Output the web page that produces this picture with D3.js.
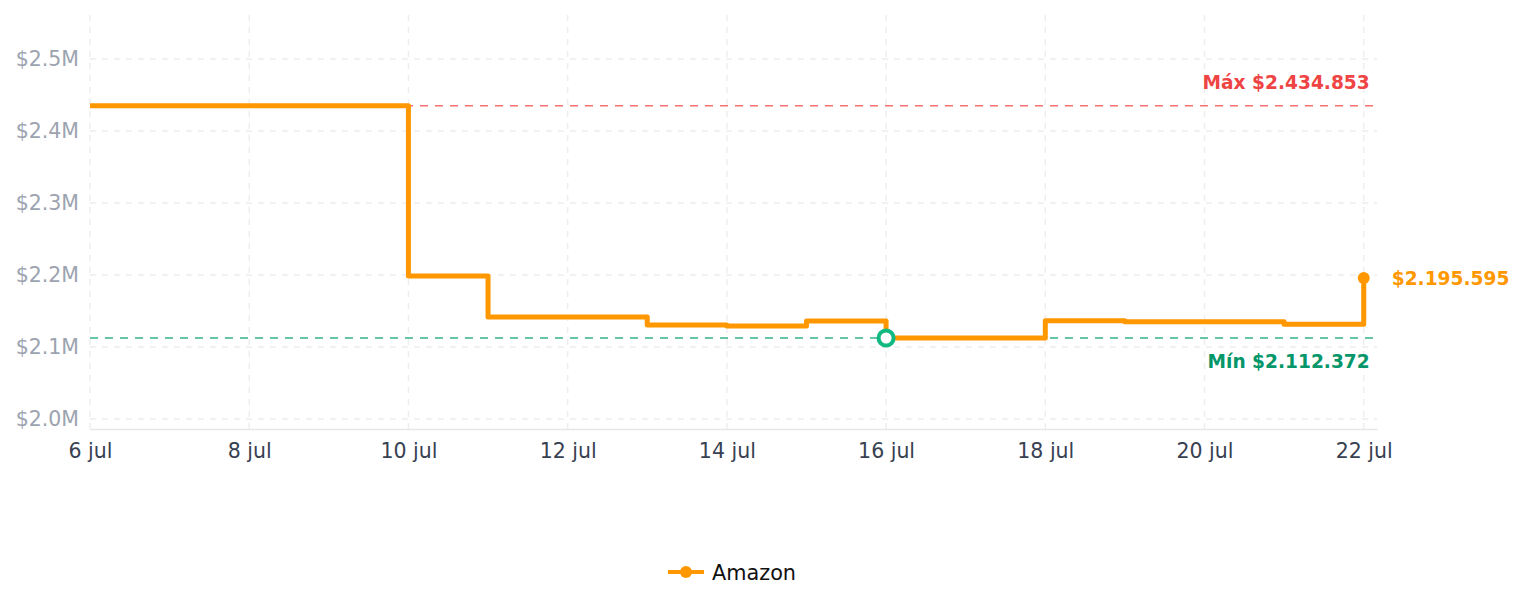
<!DOCTYPE html>
<html>
<head>
<meta charset="utf-8">
<script src="https://cdn.jsdelivr.net/npm/d3@7"></script>
<style>
  body { margin: 0; background: #fff; font-family: "DejaVu Sans", sans-serif; }
</style>
</head>
<body>
<div id="chart"></div>
<script>
// data
const days = ["2024-07-06","2024-07-07","2024-07-08","2024-07-09","2024-07-10","2024-07-11","2024-07-12","2024-07-13","2024-07-14","2024-07-15","2024-07-16","2024-07-17","2024-07-18","2024-07-19","2024-07-20","2024-07-21","2024-07-22"];
const amazon = [2434853, 2434853, 2434853, 2434853, 2198600, 2141700, 2141700, 2130600, 2129000, 2136100, 2112372, 2112372, 2136400, 2134900, 2134900, 2131600, 2195595];
const yTicks = [2000000, 2100000, 2200000, 2300000, 2400000, 2500000];
const xTickDays = ["2024-07-06","2024-07-08","2024-07-10","2024-07-12","2024-07-14","2024-07-16","2024-07-18","2024-07-20","2024-07-22"];
const months = ["ene","feb","mar","abr","may","jun","jul","ago","sep","oct","nov","dic"];

const W = 1524, H = 607;
const margin = { left: 90, right: 147, top: 15, bottom: 178 };
const parse = d3.timeParse("%Y-%m-%d");
const data = days.map((d, i) => ({ date: parse(d), v: amazon[i] }));
const fmt = v => "$" + d3.format(",")(v).replace(/,/g, ".");

const svg = d3.select("#chart").append("svg")
    .attr("width", W)
    .attr("height", H);

const x = d3.scaleTime()
    .domain([parse("2024-07-06"), d3.timeHour.offset(parse("2024-07-22"), 4)])
    .range([margin.left, W - margin.right]);

const y = d3.scaleLinear()
    .domain([1986000, 2561000])
    .range([H - margin.bottom, margin.top]);

// grid
svg.append("g").selectAll("line")
    .data(yTicks)
    .join("line")
    .attr("x1", margin.left).attr("x2", W - margin.right)
    .attr("y1", d => y(d)).attr("y2", d => y(d))
    .attr("stroke", "#eeeeee").attr("stroke-width", 1.5)
    .attr("stroke-dasharray", "6,6");

svg.append("g").selectAll("line")
    .data(xTickDays.map(parse))
    .join("line")
    .attr("x1", d => x(d)).attr("x2", d => x(d))
    .attr("y1", margin.top).attr("y2", H - margin.bottom)
    .attr("stroke", "#eeeeee").attr("stroke-width", 1.5)
    .attr("stroke-dasharray", "6,6");

// axes
const xAxis = svg.append("g")
    .attr("transform", `translate(0,${H - margin.bottom})`)
    .call(d3.axisBottom(x)
        .tickValues(xTickDays.map(parse))
        .tickSize(0)
        .tickPadding(14)
        .tickFormat(d => `${d.getDate()} ${months[d.getMonth()]}`));
xAxis.select(".domain").attr("stroke", "#e5e7eb").attr("stroke-width", 1.5);
xAxis.selectAll("text")
    .attr("fill", "#374151")
    .style("font-size", "20.5px")
    .style("font-family", "DejaVu Sans");

const yAxis = svg.append("g")
    .attr("transform", `translate(${margin.left},0)`)
    .call(d3.axisLeft(y)
        .tickValues(yTicks)
        .tickSize(0)
        .tickPadding(11)
        .tickFormat(d => "$" + (d / 1e6).toFixed(1) + "M"));
yAxis.select(".domain").remove();
yAxis.selectAll("text")
    .attr("fill", "#9ca3af")
    .style("font-size", "20.5px")
    .style("font-family", "DejaVu Sans");

// max / min reference lines
const maxV = d3.max(amazon), minV = d3.min(amazon);
const minIdx = amazon.indexOf(minV);
const last = data[data.length - 1];

svg.append("line")
    .attr("x1", margin.left).attr("x2", W - margin.right)
    .attr("y1", y(maxV)).attr("y2", y(maxV))
    .attr("stroke", "#f87171").attr("stroke-width", 1.5)
    .attr("stroke-dasharray", "8,7");
svg.append("text")
    .attr("x", x(last.date) + 6).attr("y", y(maxV) - 17)
    .attr("text-anchor", "end")
    .attr("fill", "#ef4444")
    .style("font-size", "18.6px").style("font-weight", "bold")
    .text("Máx " + fmt(maxV));

svg.append("line")
    .attr("x1", margin.left).attr("x2", W - margin.right)
    .attr("y1", y(minV)).attr("y2", y(minV))
    .attr("stroke", "#34b38a").attr("stroke-width", 1.5)
    .attr("stroke-dasharray", "8,7");
svg.append("text")
    .attr("x", x(last.date) + 6).attr("y", y(minV) + 30)
    .attr("text-anchor", "end")
    .attr("fill", "#059669")
    .style("font-size", "18.6px").style("font-weight", "bold")
    .text("Mín " + fmt(minV));

// series
const line = d3.line()
    .x(d => x(d.date))
    .y(d => y(d.v))
    .curve(d3.curveStepAfter);

svg.append("path")
    .datum(data)
    .attr("d", line)
    .attr("fill", "none")
    .attr("stroke", "#ff9800")
    .attr("stroke-width", 5)
    .attr("stroke-linejoin", "round");

// last point
svg.append("circle")
    .attr("cx", x(last.date)).attr("cy", y(last.v))
    .attr("r", 6).attr("fill", "#ff9800");
svg.append("text")
    .attr("x", x(last.date) + 28).attr("y", y(last.v) + 7)
    .attr("fill", "#ff9800")
    .style("font-size", "18.6px").style("font-weight", "bold")
    .text(fmt(last.v));

// min point
svg.append("circle")
    .attr("cx", x(data[minIdx].date)).attr("cy", y(minV))
    .attr("r", 7.5).attr("fill", "#fff")
    .attr("stroke", "#10b981").attr("stroke-width", 4);

// legend
const lg = svg.append("g").attr("transform", "translate(668,572)");
lg.append("line").attr("x1", 0).attr("x2", 36).attr("y1", 0).attr("y2", 0)
    .attr("stroke", "#ff9800").attr("stroke-width", 4);
lg.append("circle").attr("cx", 18).attr("cy", 0).attr("r", 6).attr("fill", "#ff9800");
lg.append("text").attr("x", 44).attr("y", 8)
    .attr("fill", "#111")
    .style("font-size", "20.8px")
    .text("Amazon");
</script>
</body>
</html>
